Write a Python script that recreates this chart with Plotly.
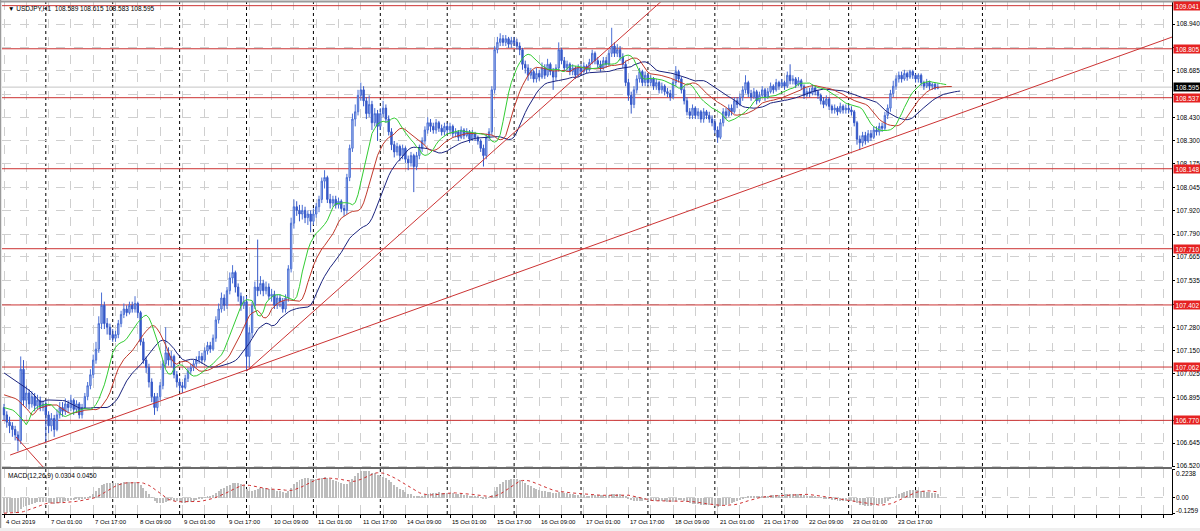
import plotly.graph_objects as go

# ---------------- data (USDJPY H1, 4 Oct 09:00 -> 24 Oct 08:00) ----------------
first_open = 106.84
close = [
    106.80,106.76,106.74,106.72,106.69,106.66,107.05,106.88,106.92,106.86,106.90,106.85,106.88,106.84,106.86,  # 4 Oct
    106.80,106.74,106.78,106.72,106.80,106.84,106.82,106.86,106.84,106.88,106.83,106.86,106.80,106.84,106.90,106.96,107.02,107.10,107.16,107.30,107.40,107.30,107.28,107.24,  # 7 Oct
    107.22,107.24,107.30,107.35,107.38,107.36,107.40,107.38,107.41,107.36,107.20,107.10,107.06,106.98,106.90,106.84,106.90,106.96,107.08,107.14,107.10,107.12,107.02,106.98,  # 8 Oct
    106.96,106.95,107.00,107.04,107.06,107.08,107.10,107.12,107.10,107.15,107.18,107.16,107.22,107.32,107.38,107.44,107.40,107.48,107.55,107.58,107.50,107.45,107.40,107.42,  # 9 Oct
    107.12,107.25,107.40,107.50,107.48,107.52,107.48,107.50,107.45,107.46,107.40,107.44,107.42,107.38,107.44,107.60,107.85,107.94,107.92,107.90,107.92,107.88,107.90,107.86,  # 10 Oct
    107.90,107.94,107.98,108.08,108.10,107.98,107.96,107.98,107.95,107.97,107.93,107.92,108.10,108.26,108.42,108.46,108.55,108.58,108.52,108.45,108.50,108.40,108.45,108.38,  # 11 Oct
    108.45,108.48,108.42,108.35,108.28,108.24,108.27,108.22,108.26,108.20,108.18,108.22,108.16,108.22,108.26,108.30,108.36,108.40,108.38,108.36,108.40,108.37,108.35,108.38,  # 14 Oct
    108.36,108.38,108.34,108.35,108.32,108.36,108.33,108.35,108.31,108.34,108.32,108.30,108.26,108.22,108.32,108.35,108.58,108.80,108.84,108.86,108.84,108.86,108.83,108.85,  # 15 Oct
    108.84,108.82,108.80,108.72,108.70,108.66,108.68,108.64,108.67,108.65,108.70,108.66,108.72,108.68,108.65,108.70,108.80,108.74,108.70,108.72,108.68,108.70,108.66,108.70,  # 16 Oct
    108.68,108.71,108.69,108.73,108.78,108.74,108.72,108.70,108.74,108.72,108.78,108.82,108.78,108.80,108.76,108.72,108.62,108.55,108.50,108.58,108.64,108.68,108.62,108.66,  # 17 Oct
    108.62,108.64,108.60,108.62,108.58,108.60,108.57,108.56,108.54,108.62,108.68,108.64,108.58,108.52,108.46,108.44,108.48,108.44,108.46,108.42,108.46,108.44,108.42,108.40,  # 18 Oct
    108.36,108.32,108.40,108.46,108.44,108.48,108.46,108.52,108.50,108.54,108.58,108.62,108.56,108.54,108.57,108.52,108.55,108.58,108.54,108.57,108.60,108.58,108.62,108.60,  # 21 Oct
    108.62,108.60,108.66,108.63,108.64,108.61,108.63,108.60,108.55,108.57,108.56,108.59,108.57,108.55,108.52,108.50,108.53,108.49,108.47,108.48,108.46,108.49,108.47,108.48,  # 22 Oct
    108.47,108.46,108.40,108.31,108.29,108.33,108.30,108.34,108.32,108.36,108.35,108.38,108.37,108.44,108.48,108.56,108.60,108.64,108.66,108.64,108.67,108.65,108.68,108.66,  # 23 Oct
    108.64,108.66,108.62,108.60,108.62,108.60,108.61,108.589,108.595,  # 24 Oct
]
high = [
    106.86,106.82,106.79,106.76,106.74,106.71,107.12,107.10,106.96,106.94,106.93,106.92,106.91,106.90,106.88,
    106.88,106.82,106.81,106.80,106.83,106.87,106.87,106.89,106.88,106.91,106.89,106.88,106.87,106.86,106.92,106.98,107.05,107.13,107.20,107.34,107.47,107.42,107.33,107.30,
    107.27,107.26,107.32,107.37,107.41,107.40,107.42,107.42,107.45,107.42,107.37,107.22,107.12,107.08,107.00,106.92,106.92,106.98,107.10,107.28,107.17,107.15,107.13,107.04,
    107.00,106.98,107.02,107.06,107.08,107.10,107.12,107.15,107.14,107.17,107.20,107.20,107.24,107.34,107.41,107.47,107.46,107.50,107.58,107.62,107.59,107.52,107.47,107.45,
    107.45,107.28,107.42,107.53,107.76,107.56,107.54,107.53,107.52,107.49,107.48,107.46,107.46,107.44,107.46,107.62,107.88,107.98,107.97,107.95,107.95,107.94,107.92,107.92,
    107.93,107.96,108.00,108.10,108.14,108.11,108.01,108.00,108.00,107.99,107.98,107.95,108.12,108.28,108.45,108.50,108.58,108.62,108.60,108.54,108.55,108.52,108.48,108.47,
    108.48,108.52,108.50,108.44,108.37,108.30,108.29,108.28,108.28,108.27,108.22,108.24,108.23,108.24,108.28,108.32,108.38,108.43,108.42,108.40,108.42,108.41,108.39,108.40,
    108.40,108.40,108.39,108.37,108.36,108.38,108.37,108.37,108.36,108.36,108.35,108.33,108.31,108.28,108.34,108.37,108.60,108.82,108.87,108.89,108.88,108.88,108.87,108.87,
    108.87,108.86,108.84,108.81,108.74,108.72,108.70,108.69,108.70,108.69,108.73,108.72,108.75,108.73,108.70,108.72,108.84,108.81,108.76,108.74,108.73,108.72,108.71,108.72,
    108.72,108.73,108.72,108.75,108.80,108.79,108.76,108.74,108.76,108.76,108.80,108.92,108.84,108.83,108.82,108.78,108.74,108.64,108.57,108.60,108.66,108.70,108.69,108.68,
    108.67,108.66,108.65,108.64,108.63,108.62,108.61,108.59,108.58,108.64,108.71,108.69,108.65,108.60,108.54,108.48,108.50,108.49,108.48,108.47,108.48,108.47,108.46,108.44,
    108.42,108.38,108.42,108.48,108.48,108.50,108.50,108.54,108.54,108.56,108.60,108.66,108.63,108.58,108.59,108.58,108.57,108.60,108.59,108.59,108.62,108.61,108.64,108.63,
    108.64,108.63,108.68,108.72,108.66,108.65,108.65,108.64,108.61,108.59,108.59,108.61,108.60,108.58,108.56,108.54,108.55,108.54,108.50,108.50,108.49,108.51,108.50,108.50,
    108.50,108.49,108.47,108.41,108.33,108.35,108.35,108.36,108.36,108.38,108.38,108.40,108.40,108.46,108.50,108.58,108.63,108.66,108.68,108.68,108.69,108.68,108.69,108.69,
    108.67,108.67,108.67,108.63,108.64,108.63,108.62,108.62,108.615,
]
low = [
    106.77,106.73,106.70,106.68,106.66,106.60,106.64,106.85,106.84,106.83,106.84,106.82,106.83,106.82,106.82,
    106.65,106.70,106.71,106.68,106.71,106.78,106.79,106.80,106.81,106.82,106.80,106.81,106.78,106.78,106.83,106.88,106.94,107.00,107.08,107.14,107.27,107.27,107.24,107.21,
    107.20,107.20,107.22,107.28,107.33,107.34,107.35,107.36,107.36,107.33,107.18,107.08,107.03,106.95,106.87,106.80,106.82,106.88,106.94,107.06,107.07,107.06,107.00,106.95,
    106.93,106.92,106.94,106.98,107.02,107.04,107.06,107.08,107.08,107.09,107.13,107.14,107.15,107.20,107.30,107.36,107.37,107.38,107.46,107.52,107.47,107.42,107.37,107.38,
    107.04,107.06,107.22,107.38,107.45,107.46,107.45,107.46,107.43,107.42,107.38,107.38,107.39,107.36,107.36,107.42,107.58,107.82,107.89,107.86,107.87,107.85,107.84,107.80,
    107.84,107.88,107.91,107.96,108.04,107.96,107.93,107.94,107.93,107.93,107.91,107.89,107.90,108.08,108.24,108.38,108.44,108.52,108.49,108.42,108.43,108.36,108.38,108.30,
    108.36,108.43,108.40,108.33,108.25,108.21,108.22,108.19,108.20,108.18,108.14,108.16,108.02,108.14,108.20,108.24,108.28,108.34,108.35,108.34,108.34,108.35,108.33,108.33,
    108.34,108.34,108.32,108.32,108.30,108.31,108.31,108.32,108.29,108.30,108.30,108.28,108.24,108.16,108.20,108.30,108.33,108.56,108.78,108.82,108.82,108.82,108.81,108.81,
    108.82,108.80,108.77,108.69,108.67,108.63,108.64,108.62,108.62,108.63,108.64,108.64,108.65,108.66,108.58,108.63,108.68,108.72,108.68,108.68,108.66,108.66,108.64,108.65,
    108.66,108.67,108.67,108.68,108.72,108.72,108.70,108.68,108.69,108.70,108.71,108.76,108.76,108.76,108.74,108.70,108.60,108.52,108.45,108.48,108.56,108.62,108.60,108.60,
    108.60,108.60,108.58,108.58,108.56,108.56,108.55,108.54,108.52,108.53,108.60,108.62,108.56,108.50,108.44,108.42,108.42,108.42,108.42,108.40,108.40,108.42,108.40,108.38,
    108.34,108.29,108.31,108.38,108.42,108.43,108.44,108.45,108.48,108.49,108.52,108.56,108.54,108.52,108.53,108.50,108.51,108.54,108.52,108.53,108.56,108.56,108.57,108.58,
    108.59,108.58,108.59,108.61,108.61,108.59,108.60,108.58,108.53,108.54,108.54,108.55,108.55,108.53,108.50,108.48,108.49,108.47,108.45,108.45,108.44,108.45,108.45,108.45,
    108.45,108.44,108.38,108.28,108.25,108.27,108.28,108.29,108.30,108.31,108.33,108.33,108.35,108.36,108.42,108.46,108.54,108.58,108.62,108.62,108.63,108.63,108.64,108.64,
    108.62,108.62,108.60,108.58,108.59,108.58,108.58,108.58,108.583,
]
assert len(close) == len(high) == len(low) == 336

# x-axis labels (every 16 H1 bars) and day separators (bar index of 00:00)
label_idx = [0, 16, 32, 48, 64, 80, 96, 112, 128, 144, 160, 176, 192, 208, 224, 240, 256, 272, 288, 304, 320]
label_txt = ["4 Oct 2019", "7 Oct 01:00", "7 Oct 17:00", "8 Oct 09:00", "9 Oct 01:00", "9 Oct 17:00",
             "10 Oct 09:00", "11 Oct 01:00", "11 Oct 17:00", "14 Oct 09:00", "15 Oct 01:00", "15 Oct 17:00",
             "16 Oct 09:00", "17 Oct 01:00", "17 Oct 17:00", "18 Oct 09:00", "21 Oct 01:00", "21 Oct 17:00",
             "22 Oct 09:00", "23 Oct 01:00", "23 Oct 17:00"]
day_start_idx = [15, 39, 63, 87, 111, 135, 159, 183, 207, 231, 255, 279, 303, 327, 351]

# price scale grid / labels
price_ticks = [106.520, 106.645, 106.770, 106.895, 107.025, 107.150, 107.280, 107.405, 107.535, 107.665,
               107.790, 107.920, 108.045, 108.175, 108.300, 108.430, 108.555, 108.685, 108.810, 108.940]
hidden_ticks = [106.770, 107.405, 108.555, 108.810]
levels = [109.041, 108.805, 108.537, 108.148, 107.710, 107.402, 107.062, 106.770]
bid = 108.595

# hand-drawn trend lines: (bar index, price) pairs
trend_long = ([2.2, 419.0], [106.58, 108.869])
trend_steep = ([87.0, 240.0], [107.04, 109.122])
trend_down = ([4.3, 14.0], [106.679, 106.515])

# Alligator (SMMA of median price): period, shift, value before first bar, value at left edge
alligator = {
    "jaw":   (13, 8, 106.96, 107.03, "#1a237e"),
    "teeth": (8, 5, 106.89, 106.91, "#c0392b"),
    "lips":  (5, 3, 106.83, 106.84, "#33cc33"),
}
# MACD(12,26,9) state before first bar
ema12_prior, ema26_prior, macd_prior = 106.86, 106.98, -0.12
macd_ticks = [0.2238, 0.0, -0.1259]

# ---------------- computations ----------------
n = len(close)
idx = list(range(n))
opn = [first_open] + close[:-1]
median = [(h + l) / 2 for h, l in zip(high, low)]


def smma(vals, p, seed):
    out, prev = [], seed
    for v in vals:
        prev = (prev * (p - 1) + v) / p
        out.append(prev)
    return out


def ema(vals, p, seed):
    a = 2.0 / (p + 1)
    out, prev = [], seed
    for v in vals:
        prev = prev + a * (v - prev)
        out.append(prev)
    return out


e12 = ema(close, 12, ema12_prior)
e26 = ema(close, 26, ema26_prior)
macd = [a - b for a, b in zip(e12, e26)]
hist_ext = [macd_prior] * 8 + macd
signal = [sum(hist_ext[i:i + 9]) / 9 for i in range(n)]

X0, X1 = -0.717, 419.0
Y0, Y1 = 106.5145, 109.0666

fig = go.Figure()

fig.add_trace(go.Candlestick(
    x=idx, open=opn, high=high, low=low, close=close,
    increasing=dict(line=dict(color="#4a6fd4", width=1), fillcolor="#b4c4ee"),
    decreasing=dict(line=dict(color="#3558c8", width=1), fillcolor="#3558c8"),
    whiskerwidth=0, xaxis="x", yaxis="y", showlegend=False, hoverinfo="skip"))

for name, (p, sh, seed, edge, col) in alligator.items():
    vals = smma(median, p, seed)
    xs = [0, sh - 1] + [i + sh for i in idx]
    ys = [edge, seed] + vals
    fig.add_trace(go.Scatter(x=xs, y=ys, mode="lines", line=dict(color=col, width=1),
                             xaxis="x", yaxis="y", showlegend=False, hoverinfo="skip"))

for tx, ty in (trend_long, trend_steep, trend_down):
    fig.add_trace(go.Scatter(x=tx, y=ty, mode="lines", line=dict(color="#cc3333", width=1),
                             xaxis="x", yaxis="y", showlegend=False, hoverinfo="skip"))

fig.add_trace(go.Bar(x=idx, y=macd, width=0.35, marker=dict(color="#bdbdbd", line=dict(width=0)),
                     xaxis="x2", yaxis="y2", showlegend=False, hoverinfo="skip"))
fig.add_trace(go.Scatter(x=idx, y=signal, mode="lines", line=dict(color="#d03030", width=1, dash="dot"),
                         xaxis="x2", yaxis="y2", showlegend=False, hoverinfo="skip"))

shapes = []
for lv in levels:
    shapes.append(dict(type="line", xref="x", x0=X0, x1=X1, yref="y", y0=lv, y1=lv,
                       line=dict(color="#cc3333", width=1), layer="between"))
shapes.append(dict(type="line", xref="x", x0=X0, x1=X1, yref="y", y0=bid, y1=bid,
                   line=dict(color="#c4c4c4", width=1), layer="between"))
for d in day_start_idx:
    shapes.append(dict(type="line", xref="x", x0=d, x1=d, yref="paper", y0=0, y1=1,
                       line=dict(color="#000000", width=1, dash="dot"), layer="below"))
# panel separator, frames
shapes.append(dict(type="line", xref="paper", x0=0, x1=1, yref="paper", y0=0.0897, y1=0.0897,
                   line=dict(color="#6a6a6a", width=2)))
shapes.append(dict(type="line", xref="paper", x0=-0.0015, x1=-0.0015, yref="paper", y0=-0.03, y1=1.01,
                   line=dict(color="#9a9a9a", width=2)))
shapes.append(dict(type="line", xref="paper", x0=-0.01, x1=1.03, yref="paper", y0=0.999, y1=0.999,
                   line=dict(color="#9a9a9a", width=2)))
shapes.append(dict(type="rect", xref="paper", x0=-0.01, x1=1.03, yref="paper", y0=-0.0275, y1=-0.04,
                   fillcolor="#efefef", line=dict(width=0)))

ann = []
FONT = "Liberation Sans, Arial, DejaVu Sans, sans-serif"
for lv in levels:
    ann.append(dict(xref="paper", x=1, xanchor="left", xshift=1, yref="y", y=lv, yanchor="middle",
                    text=f"{lv:.3f}", showarrow=False, bgcolor="#e52222",
                    font=dict(color="white", size=6.5, family=FONT), width=27, height=8, borderpad=0))
ann.append(dict(xref="paper", x=1, xanchor="left", xshift=1, yref="y", y=bid, yanchor="middle",
                text=f"{bid:.3f}", showarrow=False, bgcolor="#000000",
                font=dict(color="white", size=6.5, family=FONT), width=27, height=8, borderpad=0))
for i, t in zip(label_idx, label_txt):
    ann.append(dict(xref="x2", x=i, xanchor="left", xshift=0, yref="paper", y=-0.016, yanchor="middle",
                    text=t, showarrow=False, font=dict(size=6, color="black", family=FONT)))
for v, sh in zip(macd_ticks, [-4, 0, 3]):
    ann.append(dict(xref="paper", x=1, xanchor="left", xshift=2, yref="y2", y=v, yanchor="middle", yshift=sh,
                    text=("0.00" if v == 0 else f"{v:.4f}"), showarrow=False,
                    font=dict(size=6.5, color="black", family=FONT)))
ann.append(dict(xref="paper", x=0.003, xanchor="left", yref="paper", y=0.997, yanchor="top",
                text="\u25bc USDJPY,H1  108.589 108.615 108.583 108.595", showarrow=False,
                font=dict(size=6.5, color="black", family=FONT)))
ann.append(dict(xref="paper", x=0.003, xanchor="left", yref="paper", y=0.0865, yanchor="top",
                text="MACD(12,26,9) 0.0304 0.0450", showarrow=False,
                font=dict(size=6.5, color="black", family=FONT)))

grid_x = list(range(0, 420, 8))
axis_common = dict(range=[X0, X1], tickvals=grid_x, showgrid=True, gridcolor="#cfcfcf", griddash="dash",
                   gridwidth=1, zeroline=False, showticklabels=False)

fig.update_layout(
    width=1200, height=531,
    margin=dict(l=2, r=28, t=1, b=17),
    paper_bgcolor="white", plot_bgcolor="white",
    showlegend=False, bargap=0,
    font=dict(family=FONT, size=6.5, color="black"),
    xaxis=dict(domain=[0, 1], anchor="y", rangeslider=dict(visible=False), **axis_common),
    xaxis2=dict(domain=[0, 1], anchor="y2", ticks="outside", ticklen=3, tickcolor="black",
                showline=True, linecolor="black", linewidth=1, **axis_common),
    yaxis=dict(domain=[0.0916, 1], anchor="x", side="right", range=[Y0, Y1],
               tickvals=price_ticks,
               ticktext=["" if t in hidden_ticks else f"{t:.3f}" for t in price_ticks],
               showgrid=True, gridcolor="#cfcfcf", griddash="dash", zeroline=False,
               showline=True, linecolor="black", linewidth=1, ticks="outside", ticklen=2,
               tickcolor="black", tickfont=dict(size=6.5, family=FONT, color="black")),
    yaxis2=dict(domain=[0, 0.0877], anchor="x2", side="right", range=[-0.1259, 0.2238],
                tickvals=macd_ticks, showticklabels=False, showgrid=True, gridcolor="#cfcfcf",
                griddash="dash", zeroline=False, showline=True, linecolor="black", linewidth=1,
                ticks="outside", ticklen=2, tickcolor="black"),
    shapes=shapes, annotations=ann,
)

fig.write_html("out.html", config={"displayModeBar": False},
               post_script="document.body.style.margin='0';document.body.style.overflow='hidden';")
